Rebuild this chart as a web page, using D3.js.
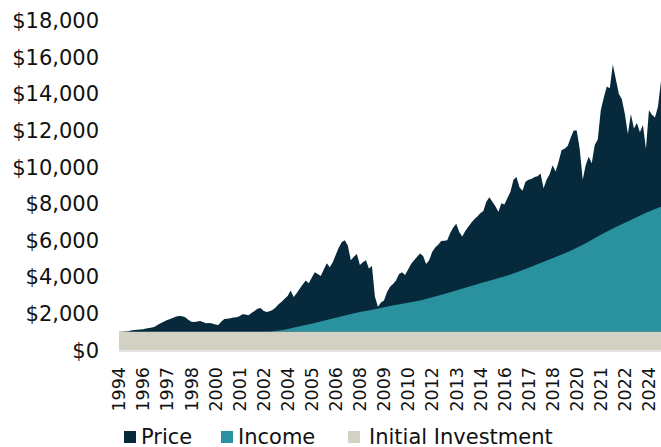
<!DOCTYPE html>
<html lang="en">
<head>
<meta charset="UTF-8">
<title>Growth of $1,000</title>
<style>
  body { margin: 0; padding: 0; background: #fff; }
  text { font-family: "DejaVu Sans", Verdana, sans-serif; fill: #111; }
</style>
</head>
<body>
<svg id="chart" width="661" height="447"></svg>
<script src="https://d3js.org/d3.v7.min.js"></script>
<script>
// values, one every 2 months from late 1994
const totalValue = [
  1000, 1000, 1010, 1030, 1060, 1090, 1110, 1120, 1140, 1170,
  1200, 1230, 1290, 1400, 1470, 1560, 1640, 1700, 1760, 1830,
  1860, 1850, 1790, 1650, 1550, 1530, 1560, 1590, 1520, 1460,
  1480, 1450, 1390, 1370, 1560, 1690, 1710, 1730, 1770, 1790,
  1850, 1960, 1940, 1900, 2020, 2130, 2250, 2290, 2150, 2080,
  2120, 2180, 2320, 2500, 2640, 2800, 2950, 3250, 2900, 3100,
  3350, 3580, 3800, 3650, 3950, 4250, 4150, 4050, 4400, 4740,
  4520, 4800, 5200, 5600, 5900, 6000, 5700, 4900, 5100, 5250,
  4640, 4800, 4900, 4460, 4590, 2910, 2370, 2590, 2700, 3150,
  3450, 3600, 3800, 4150, 4250, 4100, 4400, 4700, 4900, 5100,
  5280, 5140, 4700, 4900, 5350, 5600, 5750, 5950, 5970, 6000,
  6400, 6700, 6900, 6450, 6200, 6500, 6740, 6950, 7150, 7300,
  7470, 7600, 8100, 8350, 8100, 7850, 7560, 8020, 7950, 8300,
  8650, 9300, 9450, 8900, 8700, 9200, 9300, 9350, 9450, 9500,
  9650, 8840, 9300, 9600, 10100, 9760, 10300, 10930, 11000, 11150,
  11600, 12000, 12000, 11000, 9300, 10110, 10560, 10200, 11200, 11500,
  13100, 13800, 14400, 14300, 15600, 14800, 14000, 13700, 12900, 11800,
  12900, 12100, 12400, 11900, 12300, 11000, 13100, 12850, 12700, 13300,
  14700
];

// income on top of the initial investment, at some of the steps above
const incomeStep = [0, 50, 55, 60, 65, 70, 75, 80, 85, 90, 95, 100, 105, 110, 115,
  120, 125, 130, 135, 140, 145, 150, 155, 160, 165, 170, 175, 180];
const incomeValue = [0, 0, 110, 300, 480, 680, 880, 1080, 1230, 1400, 1550, 1700, 1930, 2150, 2400,
  2650, 2880, 3120, 3420, 3750, 4080, 4420, 4830, 5300, 5720, 6100, 6500, 6830];

const initialInvestment = 1000;

const yTicks = [0, 2000, 4000, 6000, 8000, 10000, 12000, 14000, 16000, 18000];
const xTickLabels = ["1994", "1996", "1997", "1998", "2000", "2001", "2002", "2004",
  "2005", "2006", "2008", "2009", "2010", "2012", "2013", "2014", "2016", "2017",
  "2018", "2020", "2021", "2022", "2024"];
const STEPS_PER_LABEL = 8; // a label every 16 months

const seriesNames = ["Price", "Income", "Initial Investment"];
const seriesColors = ["#062a3b", "#2a919e", "#d3d0c4"];

const svg = d3.select("#chart");

const x = d3.scaleLinear()
  .domain([0, totalValue.length - 1])
  .range([119, 661]);

const y = d3.scaleLinear()
  .domain([0, 18000])
  .range([350, 20.6]);

// price area: drawn from 0 up to the total value, the lower layers cover it
const priceArea = d3.area()
  .x(function(d, i) { return x(i); })
  .y0(y(0))
  .y1(function(d) { return y(d); });

svg.append("path")
  .datum(totalValue)
  .attr("fill", seriesColors[0])
  .attr("d", priceArea);

const incomeArea = d3.area()
  .x(function(d) { return x(d[0]); })
  .y0(y(initialInvestment))
  .y1(function(d) { return y(initialInvestment + d[1]); });

svg.append("path")
  .datum(d3.zip(incomeStep, incomeValue))
  .attr("fill", seriesColors[1])
  .attr("d", incomeArea);

// soft shadow under the base band
svg.append("line")
  .attr("x1", x(0)).attr("x2", x(totalValue.length - 1))
  .attr("y1", y(0) + 1).attr("y2", y(0) + 1)
  .attr("stroke", "#e4e4e4")
  .attr("stroke-width", 2);

const initialArea = d3.area()
  .x(function(d) { return x(d); })
  .y0(y(0))
  .y1(y(initialInvestment));

svg.append("path")
  .datum([0, totalValue.length - 1])
  .attr("fill", seriesColors[2])
  .attr("d", initialArea);

// y axis labels
svg.append("g")
  .selectAll("text")
  .data(yTicks)
  .enter()
  .append("text")
  .attr("x", 99)
  .attr("y", function(d) { return y(d); })
  .attr("dy", "0.36em")
  .attr("text-anchor", "end")
  .attr("font-size", "21px")
  .text(function(d) { return "$" + d3.format(",")(d); });

// x axis labels, rotated
svg.append("g")
  .selectAll("text")
  .data(xTickLabels)
  .enter()
  .append("text")
  .attr("transform", function(d, i) {
    return "translate(" + x(i * STEPS_PER_LABEL) + ",367) rotate(-90)";
  })
  .attr("dy", "0.36em")
  .attr("text-anchor", "end")
  .attr("font-size", "17.5px")
  .text(function(d) { return d; });

// legend
const legendX = [124, 221, 348];
const legend = svg.append("g");
seriesNames.forEach(function(name, i) {
  legend.append("rect")
    .attr("x", legendX[i]).attr("y", 431)
    .attr("width", 12).attr("height", 12)
    .attr("fill", seriesColors[i]);
  legend.append("text")
    .attr("x", legendX[i] + (i == 2 ? 21 : 17))
    .attr("y", 444)
    .attr("font-size", "21px")
    .text(name);
});
</script>
</body>
</html>
